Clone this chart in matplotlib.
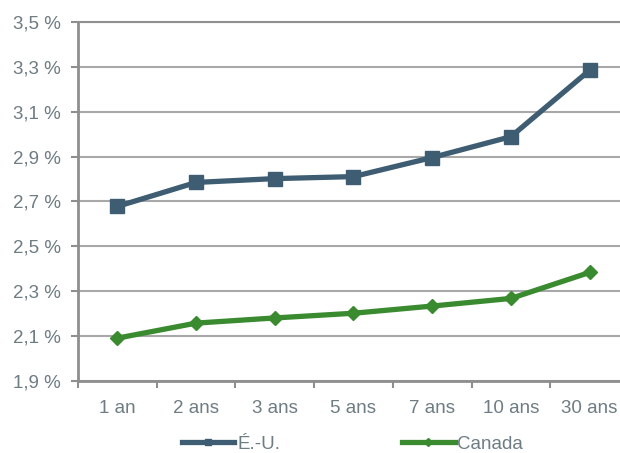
import numpy as np
import matplotlib
matplotlib.use("Agg")
import matplotlib.pyplot as plt
from matplotlib.lines import Line2D

# data
categories = ['1 an', '2 ans', '3 ans', '5 ans', '7 ans', '10 ans', '30 ans']
us_rates = [2.678, 2.785, 2.802, 2.811, 2.896, 2.989, 3.285]
ca_rates = [2.091, 2.158, 2.181, 2.202, 2.234, 2.268, 2.384]
y_ticks = [1.9, 2.1, 2.3, 2.5, 2.7, 2.9, 3.1, 3.3, 3.5]
y_labels = ['1,9 %', '2,1 %', '2,3 %', '2,5 %', '2,7 %', '2,9 %', '3,1 %', '3,3 %', '3,5 %']

us_color = '#3E5D72'
ca_color = '#3A8B2F'
text_color = '#6E7C83'
grid_color = '#A8A8A8'
axis_color = '#8E8E8E'

plt.rcParams['font.family'] = ['Liberation Sans', 'DejaVu Sans']

fig = plt.figure(figsize=(6.2, 4.53), dpi=100)
# plot area runs a little past the right edge of the picture
ax = fig.add_axes([78 / 620, 72 / 453, 551 / 620, 359 / 453])

x = np.arange(len(categories))
ax.plot(x, us_rates, color=us_color, lw=3.8, marker='s', ms=9.5,
        solid_joinstyle='round', zorder=3)
ax.plot(x, ca_rates, color=ca_color, lw=3.8, marker='D', ms=7.5,
        solid_joinstyle='round', zorder=3)

ax.set_xlim(-0.5, len(categories) - 0.5)
ax.set_ylim(1.9, 3.5)
ax.set_yticks(y_ticks)
ax.set_yticklabels(y_labels)
ax.set_xticks(x)
ax.set_xticklabels(categories)
ax.set_xticks(np.arange(len(categories) + 1) - 0.5, minor=True)

ax.tick_params(axis='x', which='major', length=0, pad=14, labelsize=13.5, labelcolor=text_color)
ax.tick_params(axis='x', which='minor', length=5, width=1.5, color=axis_color)
ax.tick_params(axis='y', length=5, width=1.5, color=axis_color, pad=7.5,
               labelsize=13.5, labelcolor=text_color)

ax.grid(axis='y', color=grid_color, lw=1.5, zorder=0)
ax.set_axisbelow(True)
ax.spines['right'].set_visible(False)
ax.spines['top'].set_color('#909090')
ax.spines['top'].set_linewidth(1.5)
ax.spines['left'].set_color(axis_color)
ax.spines['left'].set_linewidth(2)
ax.spines['bottom'].set_color(axis_color)
ax.spines['bottom'].set_linewidth(2)

handles = [
    Line2D([], [], color=us_color, lw=3.8, marker='s', ms=5),
    Line2D([], [], color=ca_color, lw=3.8, marker='D', ms=4.5),
]
fig.legend(handles, ['É.-U.', 'Canada'], loc='center left',
           bbox_to_anchor=(182 / 620, 1 - 444 / 453), ncol=2, frameon=False,
           fontsize=13.5, labelcolor=text_color, handlelength=2.8,
           handletextpad=0.15, columnspacing=6.5, borderpad=0, borderaxespad=0)

fig.savefig('out.png', dpi=100)
